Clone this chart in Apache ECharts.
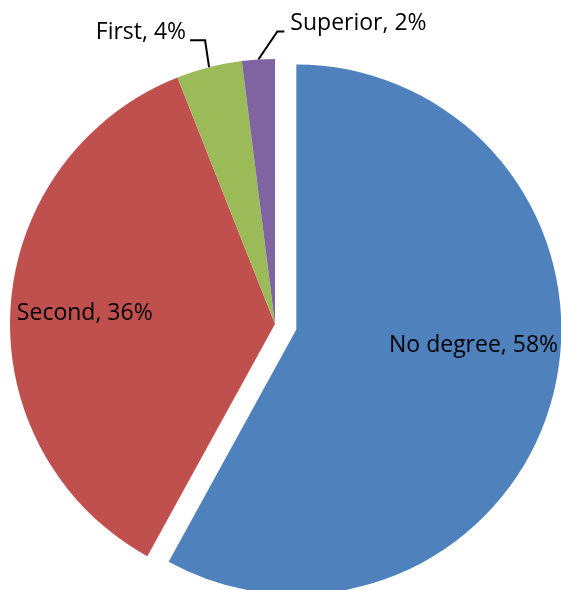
<!DOCTYPE html>
<html>
<head>
<meta charset="utf-8">
<script src="https://cdn.jsdelivr.net/npm/echarts@6/dist/echarts.min.js"></script>
<style>
  html, body { margin: 0; padding: 0; background: #ffffff; }
  #chart { width: 561px; height: 590px; }
</style>
</head>
<body>
<div id="chart"></div>
<script>
// Degree class shares (percent)
const categories = ['No degree', 'Second', 'First', 'Superior'];
const shares = [58, 36, 4, 2];
const colors = ['#4F81BD', '#C0504D', '#9BBB59', '#8064A2'];

// pie geometry
const CX = 275, CY = 324, R = 265;

// inside labels nudged away from the default mid-radius spot
const insideShift = { 0: [46, -18], 1: [-55, -2] };
// outside labels: elbow leader (bend offset from the arc point, then a horizontal run)
const leaderBend = { 2: { bend: [-4, -27], run: -15 }, 3: { bend: [19, -28], run: 7 } };

const FONT = '"Open Sans", "Liberation Sans", sans-serif';

const chart = echarts.init(document.getElementById('chart'), null, { renderer: 'canvas' });

chart.setOption({
  animation: false,
  series: [{
    type: 'pie',
    center: [CX, CY],
    radius: R,
    startAngle: 90,
    clockwise: true,
    selectedMode: 'single',
    selectedOffset: 22,
    avoidLabelOverlap: false,
    emphasis: { disabled: true },
    label: {
      color: '#000000',
      fontFamily: FONT,
      fontSize: 23,
      formatter: p => p.name + ', ' + p.value + '%'
    },
    labelLine: {
      lineStyle: { color: '#000000', width: 2 }
    },
    labelLayout: function (p) {
      const i = p.dataIndex;
      if (insideShift[i]) {
        return { dx: insideShift[i][0], dy: insideShift[i][1] };
      }
      const lb = leaderBend[i];
      if (lb && p.labelLinePoints) {
        const p0 = p.labelLinePoints[0];
        const p1 = [p0[0] + lb.bend[0], p0[1] + lb.bend[1]];
        const p2 = [p1[0] + lb.run, p1[1]];
        const right = lb.run > 0;
        return {
          x: p2[0] + (right ? 6 : -4),
          y: p2[1] - 8,
          align: right ? 'left' : 'right',
          verticalAlign: 'middle',
          labelLinePoints: [p0, p1, p2]
        };
      }
    },
    data: categories.map((name, i) => ({
      name: name,
      value: shares[i],
      selected: i === 0,
      itemStyle: { color: colors[i] },
      select: { itemStyle: { color: colors[i] } },
      label: { position: i < 2 ? 'inside' : 'outside' },
      labelLine: { show: i >= 2 }
    }))
  }]
});
</script>
</body>
</html>
